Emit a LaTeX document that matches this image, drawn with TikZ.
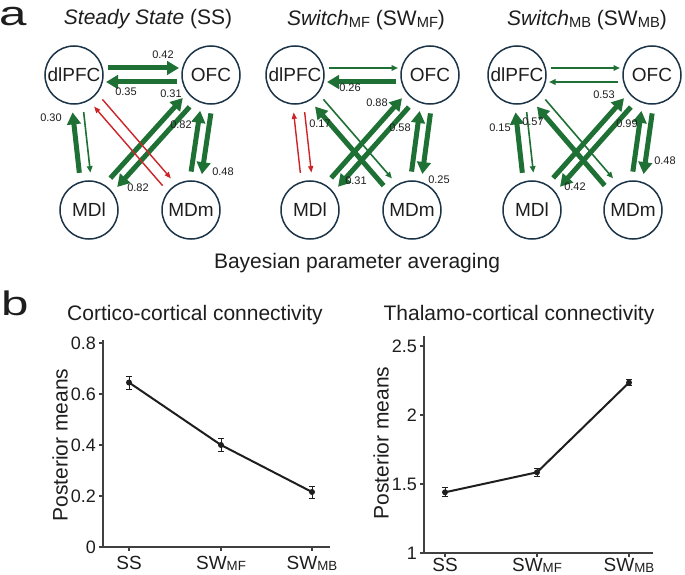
\documentclass[tikz,border=0pt]{standalone}
\usepackage{fontspec}
\setmainfont{Liberation Sans}
\usepackage{graphicx}
\usetikzlibrary{calc,arrows.meta}
\definecolor{sgreen}{RGB}{30,112,52}
\definecolor{sred}{RGB}{204,36,40}
\definecolor{navy}{RGB}{28,52,72}
\definecolor{ink}{RGB}{30,30,30}
\newcommand\fsz[1]{\fontsize{#1}{#1}\selectfont}
\newcommand\subs[1]{\raisebox{-0.08em}{\scalebox{0.7}{#1}}}
% #1 from, #2 to, #3 style, #4 offset, #5 start distance, #6 end distance
\newcommand\arrowline[6]{\draw[#3] ($(#1)!#5!(#2)!#4!90:(#2)$) -- ($(#2)!#6!(#1)!#4!-90:(#1)$);}
% #1 A, #2 B, #3 style A->B, #4 style B->A, #5 offset, #6 start, #7 end
\newcommand\pairline[7]{\arrowline{#1}{#2}{#3}{#5}{#6}{#7}\arrowline{#2}{#1}{#4}{#5}{#6}{#7}}
\tikzset{
  cnode/.style={circle, draw=navy, line width=1.5pt, minimum size=58pt, inner sep=0pt, font=\fsz{19}, text=ink},
  thickg/.style={draw=sgreen, line width=5pt, -{Triangle[length=12pt,width=13.5pt]}},
  thing/.style={draw=sgreen, line width=1.6pt, -{Triangle[length=6.5pt,width=5.5pt]}},
  thinr/.style={draw=sred, line width=1.4pt, -{Triangle[length=6.5pt,width=5pt]}},
  elab/.style={font=\fsz{11}, text=ink, inner sep=1pt},
  ttl/.style={font=\fsz{21}, text=ink, anchor=base, inner sep=0pt},
  axisl/.style={draw=ink!85, line width=1.3pt},
  dataline/.style={draw=ink, line width=2pt},
  ebar/.style={draw=ink, line width=1pt},
  tickl/.style={font=\fsz{18}, text=ink, inner sep=0pt},
  xlab/.style={font=\fsz{19}, text=ink, anchor=base, inner sep=0pt},
  panlab/.style={font=\fsz{34}, text=ink, anchor=base west, inner sep=0pt}
}
\begin{document}
\begin{tikzpicture}[x=1pt,y=-1pt]
\useasboundingbox (0,0) rectangle (685,575);
\fill[white] (0,0) rectangle (685,575);

% panel labels and titles
\node[panlab] (la) at (-1,26) {\scalebox{1.45}[1]{a}};
\node[panlab] (lb) at (1,315) {\scalebox{1.45}[1]{b}};
\node[ttl] (t1) at (148,25) {\textit{Steady State} (SS)};
\node[ttl] (t2) at (366,26) {\textit{Switch}\subs{MF} (SW\subs{MF})};
\node[ttl] (t3) at (587,26) {\textit{Switch}\subs{MB} (SW\subs{MB})};
\node[ttl] (tb) at (357,268) {Bayesian parameter averaging};

% ---------- panel 1 ----------
\node[cnode] (p1d) at (74,75) {dlPFC};
\node[cnode] (p1o) at (211,75) {OFC};
\node[cnode] (p1l) at (89,210) {MDl};
\node[cnode] (p1m) at (191,210) {MDm};
\pairline{p1d}{p1o}{thickg}{thickg}{7pt}{34pt}{32pt}
\pairline{p1l}{p1d}{thickg}{thing}{5.5pt}{38pt}{37pt}
\pairline{p1l}{p1o}{thickg}{thickg}{5.5pt}{38pt}{36pt}
\pairline{p1m}{p1d}{thinr}{thinr}{5.5pt}{37pt}{37pt}
\pairline{p1m}{p1o}{thickg}{thickg}{5.5pt}{38pt}{37pt}
\node[elab] (e11) at (163,55) {0.42};
\node[elab] (e12) at (126,92) {0.35};
\node[elab] (e13) at (171,94) {0.31};
\node[elab] (e14) at (51,118) {0.30};
\node[elab] (e15) at (181,125) {0.82};
\node[elab] (e16) at (138,188) {0.82};
\node[elab] (e17) at (223,172) {0.48};

% ---------- panel 2 ----------
\node[cnode] (p2d) at (295,75) {dlPFC};
\node[cnode] (p2o) at (430,75) {OFC};
\node[cnode] (p2l) at (310,210) {MDl};
\node[cnode] (p2m) at (412,210) {MDm};
\pairline{p2d}{p2o}{thing}{thickg}{7pt}{34pt}{32pt}
\pairline{p2l}{p2d}{thinr}{thinr}{5.5pt}{38pt}{37pt}
\pairline{p2l}{p2o}{thickg}{thickg}{5.5pt}{38pt}{36pt}
\pairline{p2m}{p2d}{thickg}{thing}{5.5pt}{37pt}{37pt}
\pairline{p2m}{p2o}{thickg}{thickg}{5.5pt}{38pt}{37pt}
\node[elab] (e21) at (350,88) {0.26};
\node[elab] (e22) at (377,103) {0.88};
\node[elab] (e23) at (320,124) {0.17};
\node[elab] (e24) at (400,128) {0.58};
\node[elab] (e25) at (356,181) {0.31};
\node[elab] (e26) at (439,180) {0.25};

% ---------- panel 3 ----------
\node[cnode] (p3d) at (517,75) {dlPFC};
\node[cnode] (p3o) at (652,75) {OFC};
\node[cnode] (p3l) at (532,210) {MDl};
\node[cnode] (p3m) at (633,210) {MDm};
\pairline{p3d}{p3o}{thing}{thing}{7pt}{34pt}{32pt}
\pairline{p3l}{p3d}{thickg}{thing}{5.5pt}{38pt}{37pt}
\pairline{p3l}{p3o}{thickg}{thickg}{5.5pt}{38pt}{36pt}
\pairline{p3m}{p3d}{thickg}{thing}{5.5pt}{37pt}{37pt}
\pairline{p3m}{p3o}{thickg}{thickg}{5.5pt}{38pt}{37pt}
\node[elab] (e31) at (604,95) {0.53};
\node[elab] (e32) at (500,128) {0.15};
\node[elab] (e33) at (533,122) {0.57};
\node[elab] (e34) at (627,124) {0.99};
\node[elab] (e35) at (665,161) {0.48};
\node[elab] (e36) at (575,187) {0.42};

% ---------- plot 1 ----------
\node[ttl] (pt1) at (195,320) {Cortico-cortical connectivity};
\draw[axisl] (103,340) -- (103,547) -- (330,547);
\foreach \v [count=\i] in {0,0.2,0.4,0.6,0.8} {
  \draw[axisl] (99,{547-255*\v}) -- (103,{547-255*\v});
  \node[tickl, anchor=east] (ya\i) at (96,{547-255*\v}) {\v};
}
\foreach \x in {129,221,312} \draw[axisl] (\x,547) -- (\x,551);
\node[xlab] (xa1) at (129,569) {SS};
\node[xlab] (xa2) at (221,569) {SW\subs{MF}};
\node[xlab] (xa3) at (312,569) {SW\subs{MB}};
\node[font=\fsz{21}, text=ink, rotate=90] (yla) at (60,445) {Posterior means};
\coordinate (a1) at (129,382.5);
\coordinate (a2) at (221,445);
\coordinate (a3) at (312,492);
\draw[dataline] (a1) -- (a2) -- (a3);
\foreach \x/\y/\e in {129/382.5/6.5, 221/445/6.5, 312/492/6} {
  \draw[ebar] (\x,\y-\e) -- (\x,\y+\e) (\x-3,\y-\e) -- (\x+3,\y-\e) (\x-3,\y+\e) -- (\x+3,\y+\e);
  \fill[ink] (\x,\y) circle (3pt);
}

% ---------- plot 2 ----------
\node[ttl] (pt2) at (519,320) {Thalamo-cortical connectivity};
\draw[axisl] (424,336) -- (424,553) -- (653,553);
\foreach \v [count=\i] in {1,1.5,2,2.5} {
  \draw[axisl] (420,{553-138*(\v-1)}) -- (424,{553-138*(\v-1)});
  \node[tickl, anchor=east] (yb\i) at (417,{553-138*(\v-1)}) {\v};
}
\foreach \x in {445,537,629} \draw[axisl] (\x,553) -- (\x,557);
\node[xlab] (xb1) at (445,571) {SS};
\node[xlab] (xb2) at (537,571) {SW\subs{MF}};
\node[xlab] (xb3) at (629,571) {SW\subs{MB}};
\node[font=\fsz{21}, text=ink, rotate=90] (ylb) at (381,443) {Posterior means};
\coordinate (b1) at (445,492.3);
\coordinate (b2) at (537,472.3);
\coordinate (b3) at (629,382.6);
\draw[dataline] (b1) -- (b2) -- (b3);
\foreach \x/\y/\e in {445/492.3/4.5, 537/472.3/4, 629/382.6/3} {
  \draw[ebar] (\x,\y-\e) -- (\x,\y+\e) (\x-3,\y-\e) -- (\x+3,\y-\e) (\x-3,\y+\e) -- (\x+3,\y+\e);
  \fill[ink] (\x,\y) circle (3pt);
}
\end{tikzpicture}
\end{document}
